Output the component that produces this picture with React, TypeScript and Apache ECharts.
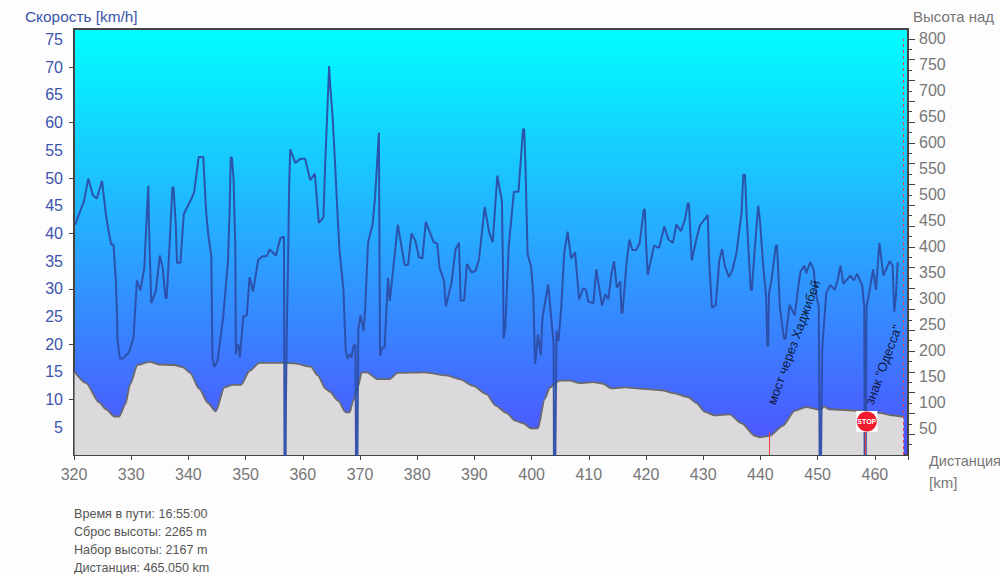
import React, { useEffect, useRef } from "react";
import * as echarts from "echarts";

const speedPoints: [number, number][] = [
  [320.2,41.6],[321.2,44.4],[321.7,45.6],[322.5,49.9],[323.3,46.9],[324,46.3],[324.9,49.5],[325.6,43.2],[326,40.7],[326.5,38],[326.9,38],[327.3,31.7],[327.5,26.3],[327.6,20.9],[328,17.4],[328.5,17.4],[329.6,18.5],[330.4,21.2],[331,31.5],[331.6,29.7],[332.3,33.8],[332.6,40.7],[332.8,45],[333,48.6],[333.1,41.4],[333.3,34.7],[333.5,27.4],[334.3,29.6],[335,36],[335.5,33.8],[336,28.3],[336.2,28.3],[336.7,37.7],[337.2,48.3],[337.4,48.3],[337.8,41.4],[338,34.7],[338.6,34.7],[339,40.7],[339.2,43.5],[340.5,46.2],[341,47.4],[341.8,53.8],[342.6,53.8],[343.1,43.8],[343.5,39.5],[344,35.9],[344.2,17.6],[344.5,15.9],[345.1,17],[346.1,25.1],[346.9,34.7],[347.2,43.8],[347.4,53.7],[347.6,53.7],[347.9,49.8],[348.1,41.4],[348.2,37.7],[348.3,18.2],[348.5,20],[348.8,19.7],[349,17.6],[349.6,25],[350.2,25.2],[350.7,32.1],[351.3,29.5],[352.2,35.2],[353,35.9],[353.7,35.9],[354.2,37.1],[355.3,36],[356.1,39.2],[356.7,39.4],[356.8,0],[357,0],[357.05,9.2],[357.2,22.7],[357.4,33],[357.6,48],[357.8,55.2],[358.7,52.7],[359.6,53.5],[360.4,53.5],[361.3,49.6],[362.1,50.8],[362.8,41.9],[363.6,42.9],[363.9,52.2],[364.3,62.4],[364.6,70.2],[364.8,66.6],[365.2,61.2],[365.6,53.4],[366,44.9],[366.4,37.1],[367.1,29.9],[367.5,18.8],[367.8,17.4],[368.2,18.2],[368.5,17.6],[368.9,19.8],[369.2,19.8],[369.3,0],[369.55,0],[369.7,22.7],[370.1,25.2],[370.6,22.4],[370.9,26.3],[371.4,38.3],[372.2,41.6],[372.6,46.1],[373,52.8],[373.3,58.2],[373.4,58.2],[373.5,17.9],[373.9,19.4],[374.3,19.4],[374.9,32],[375.2,27.8],[375.8,33.5],[376.6,41.6],[377.8,34.3],[378.4,34.3],[379,40],[379.7,38.6],[380.3,35.7],[380.9,35.5],[381.5,42.1],[382.9,38.4],[383.5,38.2],[383.9,33.8],[384.7,31.4],[385,26.8],[386,31.1],[386.7,37.1],[387.3,38.3],[387.6,27.9],[388.2,27.9],[388.7,34.5],[389.5,33],[390.2,33.2],[390.8,35.3],[391.8,44.8],[392.6,40.1],[393.2,38.4],[394,50.4],[394.8,45.9],[395,33.5],[395.1,21],[395.4,23],[396,37.7],[396.9,47.5],[397.7,47.5],[398.5,58.8],[398.7,58.8],[398.9,53.1],[399.3,36.2],[399.9,34.1],[400.3,28.7],[400.6,16.5],[400.8,18.2],[401.1,21.8],[401.6,18],[401.9,24.8],[402.9,30.8],[403.85,20],[403.9,0],[404.15,0],[404.25,11],[404.35,22.4],[404.7,20.6],[405.2,26.9],[405.7,36.5],[406.3,40.3],[406.9,35.5],[407.6,36.6],[408.3,28.1],[409,30.1],[409.5,29.8],[409.9,27.7],[410.8,27.4],[411.3,33.5],[412.3,27],[412.9,29],[413.4,28.1],[414,32.9],[414.4,35],[414.9,30.2],[415.5,31.3],[415.7,25.7],[415.9,25.7],[416.6,34.7],[417.1,38.9],[417.6,37],[418.3,37],[418.9,38.3],[419.6,44.3],[419.8,44.3],[420,38.3],[420.3,32.5],[421.4,37.8],[422.3,37.4],[423.2,41.3],[423.9,38.9],[424.7,38.3],[425.3,41.6],[426.1,40.4],[426.8,42.5],[427.3,45.4],[427.5,45.4],[428,35.1],[428.8,38.9],[429.4,41.4],[430.8,43.3],[431,35.8],[431.5,26.8],[431.6,26.6],[432.2,27.1],[432.8,35],[433.3,37.2],[433.8,34.1],[434.5,32.1],[435.1,33.4],[435.8,36.4],[436.7,43.7],[437,50.6],[437.3,50.6],[437.6,43.1],[438.3,29.8],[438.5,29.8],[439,37],[439.6,45],[439.9,42.5],[440.5,34],[441,28.6],[441.2,19.7],[441.35,19.7],[441.5,29.2],[441.9,31.3],[442.7,37.8],[442.9,37.8],[443.4,26.8],[444.1,21],[444.4,21],[445.1,27.1],[446,25.2],[446.7,31],[447,33.1],[447.7,34.2],[448,32.8],[448.7,34.8],[449.3,33.5],[449.7,29.2],[450.2,26.8],[450.35,0],[450.6,0],[450.8,19],[451.5,29.2],[452.2,30.7],[453,29.8],[453.5,31.6],[454,34.2],[454.5,30.9],[455.7,32.4],[456.3,31.5],[456.9,32.7],[457.8,30.6],[458.15,26.8],[458.22,0],[458.42,0],[458.55,26.8],[459,29.2],[459.7,33.5],[460.2,29.8],[460.8,38.3],[461.5,32.4],[462.6,35],[463.1,34.2],[463.4,25.9],[463.7,28.9],[464,34.8],
];

const elevationPoints: [number, number][] = [
  [320.1,160],[322.1,138],[324.4,101],[325.6,88],[327.05,74],[327.9,74],[329,98],[329.8,136],[331.1,173],[333.2,179],[334.9,174],[337.5,173],[339,169],[340.3,158],[341.9,127],[343.4,100],[344.8,84],[346.3,130],[347.7,135],[349.2,135],[350.7,162],[352.4,177],[356.5,177],[358.5,176],[361.4,170],[362.6,153],[364,127],[364.7,122],[366.2,104],[367.5,82],[368.2,82],[368.8,104],[369.7,133],[370.3,159],[371.2,159],[373,146],[375.2,146],[376.6,158],[381.3,159],[385.1,153],[387.4,146],[389.8,133],[392.1,117],[393.7,95],[395.6,81],[397.1,66],[398.5,61],[399.9,51],[401.1,51],[402.3,108],[403.2,130],[404.9,143],[406.7,143],[408.4,138],[410.8,140],[412.5,137],[413.9,128],[416.3,130],[419.5,127],[423,124],[424.8,119],[427.4,111],[428.8,100],[430.3,83],[432,76],[434.6,78],[436.7,61],[439,37],[439.9,34],[441.6,37],[443.9,56],[446,85],[448,92],[450.3,87],[451.2,93],[452,88],[457.3,85],[460.8,81],[463.1,76],[464.9,74],[465.05,74],
];

const xTicks = [320,330,340,350,360,370,380,390,400,410,420,430,440,450,460];
const speedLabels = [5,10,15,20,25,30,35,40,45,50,55,60,65,70,75];
const speedTicks = [10,20,30,40,50,60,70];
const heightLabels = [50,100,150,200,250,300,350,400,450,500,550,600,650,700,750,800];
const heightMajorTicks = [40,80,120,160,200,240,280,320,360,400,440,480,520,560,600,640,680,720,760,800];
const heightMinorTicks = [20,60,100,140,180,220,260,300,340,380,420,460,500,540,580,620,660,700,740,780];
const statLines = ["Время в пути: 16:55:00","Сброс высоты: 2265 m","Набор высоты: 2167 m","Дистанция: 465.050 km"];
const redMarks: [number, number][] = [[441.6,44],[458.4,44]];
const notes: [number, number, string][] = [[441.9,9.2,"мост через Хаджибей"],[459,9.2,"знак \"Одесса\""]];
const stopSign: [number, number] = [458.6,6.05];
const finishKm = 465.05;
const finishTop = 800;
const xMax = 465.8;

const FONT = "'Liberation Sans', Arial, sans-serif";

export default function App() {
  const ref = useRef<HTMLDivElement>(null);
  useEffect(() => {
    const chart = echarts.init(ref.current!, null, { renderer: "svg" });
    const gray = "#777";
    const blue = "#3c54ac";
    chart.setOption({
      animation: false,
      backgroundColor: "#fdfdfd",
      grid: {
        left: 74, right: 92, top: 29, bottom: 119, show: true, borderColor: "#444", borderWidth: 2,
        backgroundColor: new echarts.graphic.LinearGradient(0,0,0,1,[{offset:0,color:"#00ffff"},{offset:1,color:"#5050ff"}]),
      },
      xAxis: {
        type: "value", min: 320, max: xMax, splitLine: {show:false},
        axisLine: {show:true,onZero:false,lineStyle:{color:"#444",width:2}},
        axisTick: {show:true,length:5,customValues:[...xTicks,xMax],lineStyle:{color:"#444"}},
        axisLabel: {customValues:xTicks,color:gray,fontSize:16,fontFamily:FONT,margin:11},
      },
      yAxis: [
        { type:"value",min:0,max:76.9,position:"left",splitLine:{show:false},
          axisLine:{show:true,onZero:false,lineStyle:{color:"#444",width:2}},
          axisTick:{show:true,length:5,customValues:speedTicks,lineStyle:{color:"#444"}},
          axisLabel:{customValues:speedLabels,color:blue,fontSize:16,fontFamily:FONT,margin:11} },
        { type:"value",min:0,max:819,position:"right",splitLine:{show:false},
          axisLine:{show:true,onZero:false,lineStyle:{color:"#444",width:2}},
          axisTick:{show:true,length:7,customValues:heightMajorTicks,lineStyle:{color:"#444"}},
          axisLabel:{customValues:heightLabels,color:gray,fontSize:16,fontFamily:FONT,margin:11} },
        { type:"value",min:0,max:819,position:"right",splitLine:{show:false},
          axisLine:{show:false},
          axisTick:{show:true,length:4,customValues:heightMinorTicks,lineStyle:{color:"#444"}},
          axisLabel:{show:false} },
      ],
      series: [
        { type:"line",yAxisIndex:1,data:elevationPoints,showSymbol:false,z:2,smooth:0.25,smoothMonotone:"x",
          lineStyle:{color:"#6a6a6a",width:1.8},areaStyle:{color:"#dcd9dc",opacity:1},
          markLine:{silent:true,symbol:"none",label:{show:false},
            lineStyle:{color:"#e0405c",type:[3,3],width:1},
            data:[[{coord:[finishKm,0]},{coord:[finishKm,finishTop]}]]} },
        { type:"line",yAxisIndex:0,data:speedPoints,showSymbol:false,z:3,
          lineStyle:{color:"#2c4ea6",width:2,opacity:0.95} },
        { type:"line",yAxisIndex:1,data:[],z:4,
          markLine:{silent:true,symbol:"none",label:{show:false},
            lineStyle:{color:"#f04040",type:"solid",width:1},
            data:redMarks.map(([k,h])=>[{coord:[k,0]},{coord:[k,h]}])} },
        { type:"scatter",yAxisIndex:0,data:[stopSign],symbol:"rect",symbolSize:21,z:5,
          itemStyle:{color:"#ffffff",opacity:1} },
        { type:"scatter",yAxisIndex:0,data:[stopSign],symbol:"circle",symbolSize:20,z:6,
          itemStyle:{color:"#ee1c2e",opacity:1},
          label:{show:true,position:"inside",formatter:"STOP",color:"#fff",fontSize:7,fontWeight:"bold",fontFamily:FONT} },
        { type:"scatter",yAxisIndex:0,symbolSize:0,z:7,
          data:notes.map(([k,v,t])=>({value:[k,v],name:t,
            label:{show:true,formatter:t,position:"inside",rotate:70,align:"left",verticalAlign:"middle",color:"#000",fontSize:13,fontFamily:FONT}})) },
      ],
      graphic: [
        {type:"text",x:25,y:9,style:{text:"Скорость [km/h]",fill:blue,font:`15.4px ${FONT}`}},
        {type:"text",x:913,y:9,style:{text:"Высота над",fill:gray,font:`15px ${FONT}`}},
        {type:"text",x:929,y:453,style:{text:"Дистанция",fill:gray,font:`14.5px ${FONT}`}},
        {type:"text",x:929,y:475,style:{text:"[km]",fill:gray,font:`15px ${FONT}`}},
        ...statLines.map((t,i)=>({type:"text",x:74,y:507+i*18,style:{text:t,fill:"#555",font:`12.6px ${FONT}`}})),
      ],
    });
    return () => chart.dispose();
  }, []);
  return <div ref={ref} style={{ position:"absolute", left:0, top:0, width:1000, height:574 }} />;
}
